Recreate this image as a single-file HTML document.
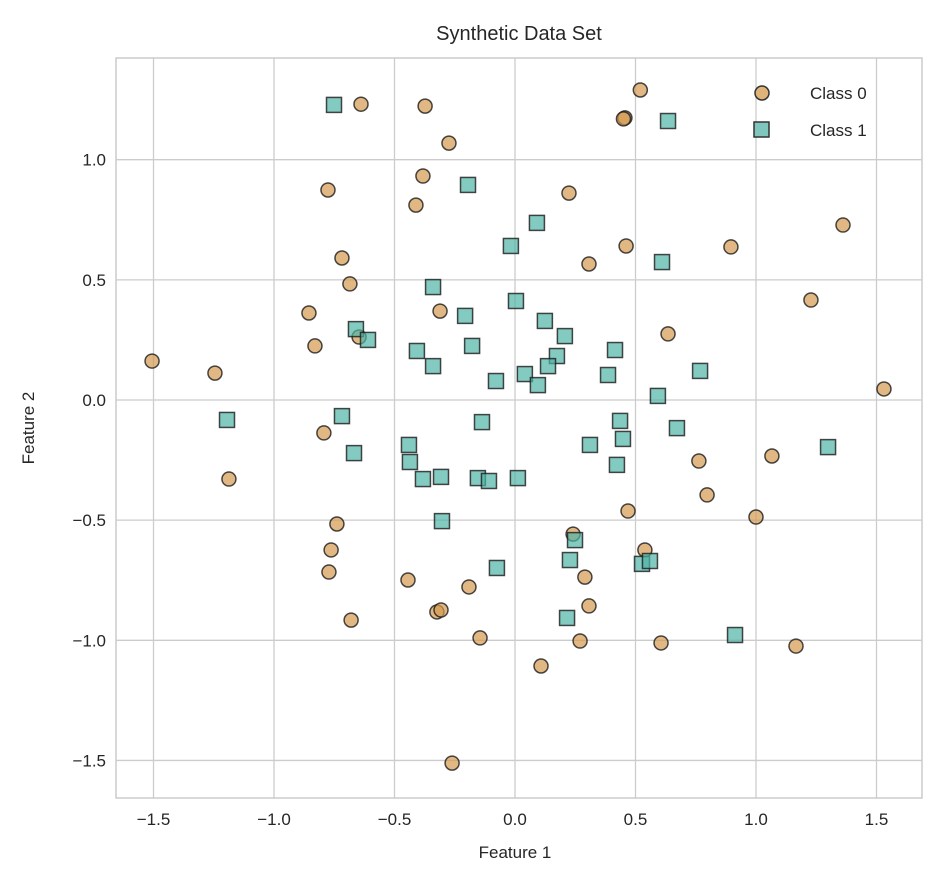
<!DOCTYPE html>
<html><head><meta charset="utf-8"><style>
body{margin:0;background:#fff;}
svg{display:block;font-family:"Liberation Sans","DejaVu Sans",sans-serif;}
</style></head><body>
<svg id="chart" width="940" height="884" xmlns="http://www.w3.org/2000/svg">
<rect width="940" height="884" fill="#fff"/>
<text x="519" y="40" text-anchor="middle" font-size="20" fill="#262626">Synthetic Data Set</text>
<g id="grid"></g>
<g id="ticks"></g>
<rect x="116" y="58" width="806" height="740" fill="none" stroke="#cccccc" stroke-width="1.5"/>
<g id="marks"></g>
<text x="515" y="858" text-anchor="middle" font-size="17" fill="#262626">Feature 1</text>
<text transform="translate(34,428) rotate(-90)" text-anchor="middle" font-size="17" fill="#262626">Feature 2</text>
<g>
<g>
<circle cx="762" cy="93" r="7" fill="#e0b478" stroke="#333" stroke-width="1.5"/>
<text x="810" y="99" font-size="17" fill="#262626">Class 0</text></g>
<g>
<rect x="754" y="122" width="15" height="15" fill="#7fc7bd" stroke="#333" stroke-width="1.5"/>
<text x="810" y="136" font-size="17" fill="#262626">Class 1</text></g>
</g>
</svg>
<script>
const xTicks=[-1.5,-1.0,-0.5,0.0,0.5,1.0,1.5];
const yTicks=[-1.5,-1.0,-0.5,0.0,0.5,1.0];
const class0X=[-1.506,-1.245,-1.187,-0.639,-0.373,-0.274,-0.776,-0.382,-0.411,0.224,0.520,0.456,0.450,-0.718,-0.685,-0.855,-0.830,-0.311,-0.647,0.307,0.461,0.896,0.635,1.228,1.361,1.531,-0.793,-0.739,-0.763,-0.772,-0.680,-0.444,-0.191,-0.324,-0.307,-0.145,-0.261,0.108,0.270,0.241,0.290,0.307,0.469,0.539,0.606,0.763,0.797,1.066,1.000,1.166];
const class0Y=[0.162,0.112,-0.329,1.231,1.223,1.069,0.874,0.932,0.811,0.861,1.290,1.174,1.170,0.591,0.483,0.362,0.225,0.370,0.262,0.566,0.641,0.637,0.275,0.416,0.728,0.046,-0.137,-0.516,-0.624,-0.716,-0.916,-0.749,-0.778,-0.882,-0.874,-0.990,-1.511,-1.107,-1.003,-0.558,-0.737,-0.857,-0.462,-0.624,-1.011,-0.254,-0.395,-0.233,-0.487,-1.024];
const class1X=[-0.751,0.635,-0.195,0.091,-0.017,0.610,-0.340,0.004,0.124,-0.207,-0.660,-0.610,-0.407,-0.340,-0.178,0.207,0.174,0.137,0.041,-0.079,0.095,0.415,0.386,0.768,0.593,-1.195,-0.718,-0.668,-0.440,-0.436,-0.382,-0.307,-0.137,-0.154,-0.108,0.012,-0.303,0.311,0.436,0.448,0.423,0.672,1.299,0.249,0.228,-0.075,0.527,0.560,0.216,0.913];
const class1Y=[1.228,1.161,0.895,0.737,0.641,0.574,0.470,0.412,0.329,0.350,0.295,0.250,0.204,0.141,0.225,0.266,0.183,0.141,0.108,0.079,0.062,0.208,0.104,0.121,0.017,-0.083,-0.067,-0.221,-0.187,-0.258,-0.329,-0.320,-0.092,-0.325,-0.337,-0.325,-0.504,-0.187,-0.087,-0.162,-0.270,-0.117,-0.196,-0.583,-0.666,-0.699,-0.682,-0.670,-0.907,-0.978];
const NS="http://www.w3.org/2000/svg";
const sx=v=>515+v*241;
const sy=v=>400-v*240.3;
const grid=document.getElementById('grid'),ticks=document.getElementById('ticks'),marks=document.getElementById('marks');
const fmt=v=>(v<0?'\u2212':'')+Math.abs(v).toFixed(1);
xTicks.forEach(t=>{
  const l=document.createElementNS(NS,'line');
  l.setAttribute('x1',sx(t));l.setAttribute('x2',sx(t));l.setAttribute('y1',58);l.setAttribute('y2',798);
  l.setAttribute('stroke','#cccccc');l.setAttribute('stroke-width','1.3');
  
  
  grid.appendChild(l);
  const tx=document.createElementNS(NS,'text');
  tx.setAttribute('x',sx(t));tx.setAttribute('y',825);tx.setAttribute('text-anchor','middle');
  tx.setAttribute('font-size','17');tx.setAttribute('fill','#262626');tx.textContent=fmt(t);
  
  
  ticks.appendChild(tx);
});
yTicks.forEach(t=>{
  const l=document.createElementNS(NS,'line');
  l.setAttribute('x1',116);l.setAttribute('x2',922);l.setAttribute('y1',sy(t));l.setAttribute('y2',sy(t));
  l.setAttribute('stroke','#cccccc');l.setAttribute('stroke-width','1.3');
  
  
  grid.appendChild(l);
  const tx=document.createElementNS(NS,'text');
  tx.setAttribute('x',106);tx.setAttribute('y',sy(t)+6);tx.setAttribute('text-anchor','end');
  tx.setAttribute('font-size','17');tx.setAttribute('fill','#262626');tx.textContent=fmt(t);
  
  
  ticks.appendChild(tx);
});
class0X.forEach((x,i)=>{
  const c=document.createElementNS(NS,'circle');
  c.setAttribute('cx',sx(x));c.setAttribute('cy',sy(class0Y[i]));c.setAttribute('r',7);
  c.setAttribute('fill','#d49a4e');c.setAttribute('fill-opacity','0.7');
  c.setAttribute('stroke','#1a1a1a');c.setAttribute('stroke-opacity','0.8');c.setAttribute('stroke-width','1.5');
  
  
  marks.appendChild(c);
});
class1X.forEach((x,i)=>{
  const r=document.createElementNS(NS,'rect');
  r.setAttribute('x',sx(x)-7.5);r.setAttribute('y',sy(class1Y[i])-7.5);r.setAttribute('width',15);r.setAttribute('height',15);
  r.setAttribute('fill','#4fb3a6');r.setAttribute('fill-opacity','0.7');
  r.setAttribute('stroke','#1a1a1a');r.setAttribute('stroke-opacity','0.8');r.setAttribute('stroke-width','1.5');
  
  
  marks.appendChild(r);
});
</script>
</body></html>
